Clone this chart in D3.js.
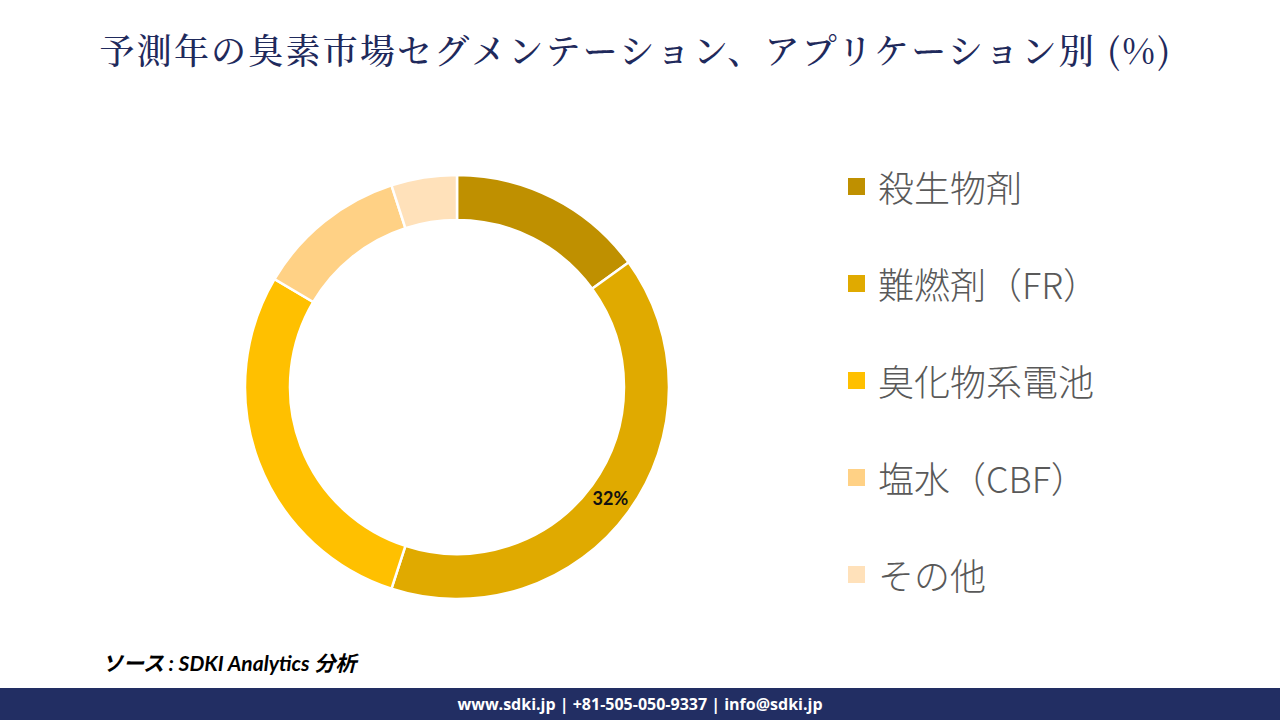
<!DOCTYPE html>
<html><head><meta charset="utf-8">
<script src="https://d3js.org/d3.v7.min.js"></script>
<style>body{margin:0;background:#fff;}svg{display:block;}</style>
</head><body>
<svg id="c" width="1280" height="720"></svg>
<script>
const categories = ["殺生物剤", "難燃剤（FR）", "臭化物系電池", "塩水（CBF）", "その他"];
const values = [15, 40, 28.5, 11.5, 5];
const labels = ["", "32%", "", "", ""];
const colors = ["#BF9000", "#E0AA00", "#FFC000", "#FFD185", "#FFE1BA"];
const title = "予測年の臭素市場セグメンテーション、アプリケーション別 (%)";
const source = "ソース : SDKI Analytics 分析";
const footer = "www.sdki.jp | +81-505-050-9337 | info@sdki.jp";

const svg = d3.select("#c");
svg.append("rect").attr("width",1280).attr("height",720).attr("fill","#fff");

svg.append("text").attr("x",636).attr("y",64).attr("text-anchor","middle")
  .attr("font-family","'Noto Serif CJK JP','Noto Sans CJK JP',serif").attr("font-size",35)
  .attr("font-weight",500)
  .attr("fill","#1F2A5C").attr("letter-spacing",2.2).text(title);

const cx = 457, cy = 387, rOuter = 212, rInner = 167;
const pie = d3.pie().sort(null).value(d=>d);
const arcs = pie(values);
const arc = d3.arc().innerRadius(rInner).outerRadius(rOuter);
const g = svg.append("g").attr("transform",`translate(${cx},${cy})`);
g.selectAll("path").data(arcs).join("path")
  .attr("d",arc).attr("fill",(d,i)=>colors[i]).attr("stroke","#fff").attr("stroke-width",2.5);
g.selectAll("text").data(arcs).join("text")
  .attr("transform",d=>`translate(${arc.centroid(d)})`)
  .attr("text-anchor","middle").attr("dominant-baseline","central")
  .attr("font-family","Lato, 'Noto Sans', sans-serif").attr("font-weight","bold").attr("font-size",18)
  .attr("fill","#111").text((d,i)=>labels[i]);

const ly = d3.scalePoint().domain(categories).range([186,574]);
const lg = svg.append("g");
categories.forEach((c,i)=>{
  lg.append("rect").attr("x",848).attr("y",ly(c)-8).attr("width",17).attr("height",17).attr("fill",colors[i]);
  lg.append("text").attr("x",878).attr("y",ly(c)).attr("dominant-baseline","central")
    .attr("font-family","'Noto Sans CJK JP','Open Sans',sans-serif").attr("font-size",36).attr("font-weight",300)
    .attr("fill","#595959").text(c);
});

svg.append("text").attr("x",102).attr("y",671)
  .attr("font-family","Lato,'Noto Sans CJK JP',sans-serif").attr("font-style","italic").attr("font-weight","bold")
  .attr("font-size",21).attr("fill","#000").text(source);

svg.append("rect").attr("x",0).attr("y",688).attr("width",1280).attr("height",32).attr("fill","#222E63");
svg.append("text").attr("x",640).attr("y",704).attr("text-anchor","middle").attr("dominant-baseline","central")
  .attr("font-family","'Open Sans','Noto Sans',sans-serif").attr("font-weight","bold").attr("font-size",16)
  .attr("fill","#fff").text(footer);
</script>
</body></html>
